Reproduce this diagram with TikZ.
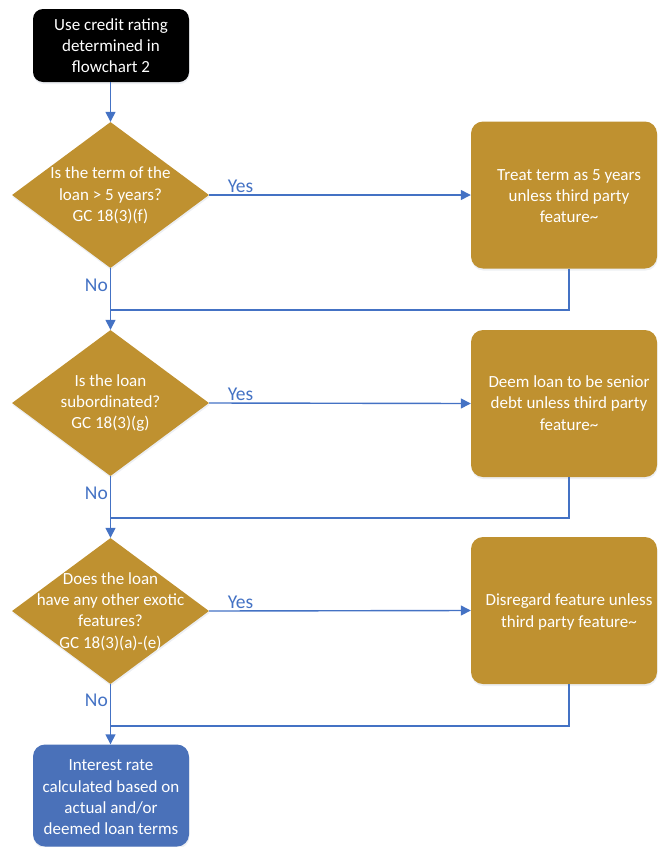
\documentclass[tikz,border=0pt]{standalone}
\usepackage{fontspec}
\setmainfont{Carlito}
\usetikzlibrary{shapes.geometric,arrows.meta,shadows}
\definecolor{gold}{HTML}{BF9130}
\definecolor{flowblue}{HTML}{4472C4}
\definecolor{endblue}{HTML}{4A71B9}
\begin{document}
\begin{tikzpicture}[x=1pt,y=-1pt,
  softshadow/.style={drop shadow={shadow xshift=0.5pt, shadow yshift=-2pt, opacity=0.12, fill=flowblue!40!gray}},
  boxtext/.style={text=white, align=center, inner sep=0pt, font=\fontsize{17}{21.3}\selectfont},
  startbox/.style={rectangle, rounded corners=10pt, fill=black, minimum width=156pt, minimum height=73pt, softshadow},
  endbox/.style={rectangle, rounded corners=12pt, fill=endblue, minimum width=156pt, minimum height=102pt, softshadow},
  decision/.style={diamond, fill=gold, minimum width=197pt, minimum height=146pt, inner sep=0pt, softshadow},
  action/.style={rectangle, rounded corners=12pt, fill=gold, minimum width=186pt, minimum height=147pt, softshadow},
  flow/.style={draw=flowblue, line width=1.4pt},
  arrowflow/.style={flow, -{Triangle[length=10pt,width=10pt]}},
  answer/.style={text=flowblue, inner sep=2pt, font=\fontsize{19.5}{22}\selectfont}
]
\useasboundingbox (0,0) rectangle (657,847);

% start and end terminals
\node[startbox] (start) at (111,45.5) {};
\node[boxtext] (starttext) at (111,45.5) {Use credit rating\\determined in\\flowchart 2};

\node[endbox] (finish) at (111,795.5) {};
\node[boxtext] (finishtext) at (111,797.5) {Interest rate\\calculated based on\\actual and/or\\deemed loan terms};

% decisions
\node[decision] (d1) at (110.5,195) {};
\node[boxtext] (d1text) at (110.5,195.5) {Is the term of the\\loan > 5 years?\\GC 18(3)(f)};

\node[decision] (d2) at (110.5,403) {};
\node[boxtext] (d2text) at (110.5,403) {Is the loan\\subordinated?\\GC 18(3)(g)};

\node[decision] (d3) at (110.5,611) {};
\node[boxtext] (d3text) at (110.5,611.5) {Does the loan\\have any other exotic\\features?\\GC 18(3)(a)-(e)};

% actions for the "Yes" branches
\node[action] (r1) at (564,195) {};
\node[boxtext] (r1text) at (569,196) {Treat term as 5 years\\unless third party\\feature\textasciitilde};

\node[action] (r2) at (564,403.5) {};
\node[boxtext] (r2text) at (569,403) {Deem loan to be senior\\debt unless third party\\feature\textasciitilde};

\node[action] (r3) at (564,610.5) {};
\node[boxtext] (r3text) at (569,612) {Disregard feature unless\\third party feature\textasciitilde};

% merge points on the main line
\coordinate (m1) at (110.5,310);
\coordinate (m2) at (110.5,518);
\coordinate (m3) at (110.5,726);

% main line
\draw[arrowflow] (start.south -| d1.north) -- (d1.north);
\draw[arrowflow] (d1.south) -- node[answer, left, pos=0.27] {No} (d2.north);
\draw[arrowflow] (d2.south) -- node[answer, left, pos=0.27] {No} (d3.north);
\draw[arrowflow] (d3.south) -- node[answer, left, pos=0.27] {No} (finish.north -| d3.south);

% "Yes" branches
\draw[arrowflow] (d1.east) -- node[answer, above, pos=0.12] {Yes} (r1.west);
\draw[arrowflow] (d2.east) -- node[answer, above, pos=0.12] {Yes} (r2.west);
\draw[arrowflow] (d3.east) -- node[answer, above, pos=0.12] {Yes} (r3.west);

% returns to the main line
\draw[flow] (r1text |- r1.south) |- (m1);
\draw[flow] (r2text |- r2.south) |- (m2);
\draw[flow] (r3text |- r3.south) |- (m3);
\end{tikzpicture}
\end{document}
